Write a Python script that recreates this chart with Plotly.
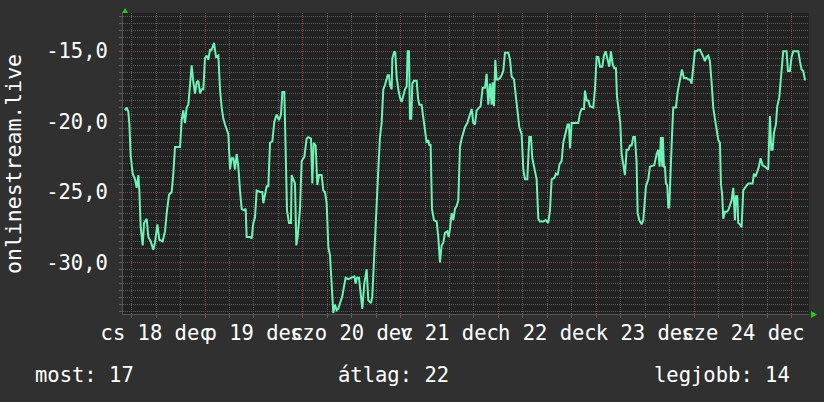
import numpy as np
import pandas as pd
import plotly.graph_objects as go

# Week of signal level readings, hours counted from 2025-12-18 00:00
START = pd.Timestamp("2025-12-18 00:00")

hours = [
    4.37, 4.78, 5.19, 5.44, 5.76, 6.26, 6.83, 7.24, 7.65, 7.89,
    8.22, 8.71, 9.04, 9.69, 10.10, 10.67, 11.32, 11.73, 12.31, 12.80,
    13.61, 14.19, 14.60, 15.17, 15.82, 16.23, 16.64, 17.87, 18.28, 18.68,
    19.09, 19.50, 19.91, 20.32, 20.73, 21.14, 21.55, 21.96, 22.37, 22.77,
    23.18, 23.59, 24.00, 24.41, 24.82, 25.23, 25.64, 26.21, 26.70, 27.27,
    27.68, 28.09, 28.50, 28.91, 29.32, 29.73, 30.14, 30.54, 30.95, 31.36,
    31.77, 32.18, 32.59, 33.00, 33.57, 33.98, 34.22, 35.04, 35.45, 35.86,
    36.27, 36.68,
    37.49, 38.07, 38.31, 38.72, 39.13, 39.54, 39.95, 40.52, 41.01, 41.58,
    42.15, 42.65, 42.97, 43.46, 43.79, 44.12, 44.61, 45.10, 45.26, 45.75,
    46.08, 46.41, 46.73, 47.31, 47.72, 48.37, 48.94, 49.35, 50.01, 50.33,
    50.66, 51.15, 51.56, 51.97, 52.62, 53.03, 53.44, 53.85, 54.26, 54.67,
    55.08, 55.48, 55.89, 56.30, 56.71, 57.37, 57.69, 58.18, 58.51, 59.17,
    59.98, 60.64, 60.96, 61.29, 61.78, 62.27, 62.60, 63.09, 63.66, 64.07,
    64.73, 65.05, 65.54, 65.95, 66.53, 66.93, 67.34, 67.75, 68.16, 68.82,
    69.14, 69.39, 69.80, 69.96, 70.45,
    70.69, 71.02, 71.43, 71.84, 72.25, 72.66, 73.07, 73.48, 73.72, 74.05,
    74.29, 74.62, 74.87, 75.27, 75.93, 76.26, 76.58, 77.15, 77.56, 78.05,
    78.38, 78.79, 79.04, 79.36, 79.69, 80.18, 80.84, 81.24, 81.65, 82.06,
    82.47, 82.88, 83.45, 83.78, 84.11, 84.52, 84.92, 85.33, 85.74, 86.15,
    86.56, 86.97, 87.38, 87.79, 88.36, 88.85, 89.42, 89.83, 90.24, 90.65,
    91.06, 91.63, 92.12, 92.69, 93.10, 93.51, 93.92, 94.33, 94.57, 94.90,
    95.23, 95.55, 95.96, 96.37, 96.78, 97.19, 97.60, 98.42, 98.83, 99.24,
    99.81, 100.30, 100.71, 101.12, 101.69, 102.10, 102.51, 103.08, 103.57,
    103.98, 104.31, 104.80, 105.37, 105.78, 106.19, 107.00, 107.58, 108.23, 108.64,
    109.05, 109.70, 110.11, 110.52, 111.01, 111.50, 111.91, 112.48, 112.97, 113.30,
    113.55, 113.96, 115.59, 116.00, 116.41, 116.98, 117.23, 117.64, 118.04, 118.45,
    119.27, 119.68, 120.09, 120.50, 120.91, 121.48, 121.89, 122.30, 122.79, 123.20,
    123.60, 124.01, 124.42, 124.83, 125.08, 125.57, 125.89, 126.22, 126.63, 127.04,
    127.45, 127.86, 128.27, 128.68, 129.08, 129.49, 129.90, 130.15, 130.56, 131.13,
    131.54, 131.95, 132.19, 132.76, 133.17, 134.24, 134.81, 135.22, 135.54, 135.87,
    136.20, 136.35, 136.60,
    136.85, 137.10, 137.42, 137.67, 137.91, 138.24, 138.57, 138.90, 139.55, 139.96,
    140.37, 140.70, 141.02, 141.51, 142.17, 142.58, 142.99, 143.39, 143.80, 144.21,
    144.62, 145.03, 145.44, 145.85, 146.26, 146.67, 147.07, 147.48, 147.89, 148.30,
    148.71, 149.12, 149.53, 149.94, 150.35, 150.59, 150.92, 151.16, 151.57, 151.98,
    152.39, 152.80, 153.21, 153.62, 154.03, 154.27, 154.60, 154.84, 155.25, 155.66,
    156.07, 156.48, 156.89, 157.30, 158.36, 158.69, 159.10, 159.50, 159.91, 160.32,
    160.81, 161.38, 161.79, 162.20, 162.61, 162.94, 163.27, 163.59, 164.08, 164.41,
    164.90, 165.23, 165.56, 165.88, 166.70, 167.03, 167.52, 167.93, 168.34, 169.56,
    169.97, 170.38, 170.79, 171.20, 171.44,
]

level = [
    -19.2, -19.0, -19.3, -20.2, -22.4, -23.7, -24.1, -24.7, -23.8, -24.9,
    -27.5, -28.8, -27.2, -26.9, -28.2, -28.5, -29.1, -28.6, -27.3, -28.4,
    -28.5, -27.8, -26.5, -25.2, -25.0, -23.7, -21.8, -21.8, -19.9, -19.2,
    -20.1, -19.0, -18.8, -17.4, -16.0, -17.2, -18.0, -17.2, -17.1, -18.0,
    -17.7, -17.7, -15.5, -15.3, -15.6, -14.9, -14.9, -14.4, -15.4, -15.3,
    -17.7, -19.0, -19.8, -20.2, -20.5, -20.9, -23.4, -22.6, -22.6, -23.4,
    -22.3, -23.2, -24.9, -26.2, -26.3, -26.2, -28.2, -28.2, -28.3, -27.2,
    -26.8, -24.9,
    -25.0, -25.0, -25.8, -25.3, -24.6, -24.6, -21.5, -21.4, -20.0, -19.5,
    -19.9, -19.5, -17.9, -17.9, -22.3, -26.3, -27.2, -27.2, -23.8, -24.2,
    -24.4, -28.8, -28.2, -26.2, -22.8, -22.5, -21.2, -21.1, -21.2, -24.4,
    -21.5, -21.7, -24.5, -23.8, -23.8, -24.9, -25.0, -25.8, -28.9, -29.5,
    -31.7, -33.6, -33.0, -33.4, -33.3, -32.7, -32.4, -31.6, -31.1, -31.2,
    -31.1, -31.0, -31.5, -31.1, -31.1, -32.2, -33.3, -31.5, -30.5, -32.7,
    -32.9, -32.4, -29.1, -27.5, -23.4, -21.1, -20.1, -17.7, -17.4, -16.7,
    -16.7, -17.4, -17.7, -15.5, -15.0,
    -15.1, -16.8, -17.7, -18.3, -18.6, -18.1, -17.7, -17.5, -15.0, -15.0,
    -19.8, -19.8, -17.3, -17.1, -17.1, -18.3, -18.8, -18.8, -19.6, -20.5,
    -21.5, -21.3, -21.7, -21.6, -26.2, -27.0, -27.1, -28.2, -30.0, -28.8,
    -28.6, -27.9, -27.8, -28.2, -27.6, -26.5, -27.0, -26.2, -26.0, -25.6,
    -21.8, -21.2, -20.8, -20.4, -20.1, -19.6, -19.1, -20.1, -20.2, -19.2,
    -19.1, -18.9, -17.6, -17.6, -16.6, -18.8, -17.3, -18.8, -17.2, -18.9,
    -15.6, -17.0, -17.0, -16.9, -16.7, -16.4, -15.1, -15.1, -15.6, -16.8,
    -17.0, -18.3, -19.1, -20.4, -20.9, -23.4, -24.1, -24.1, -21.1,
    -21.1, -22.6, -23.2, -24.1, -26.9, -27.1, -27.1, -27.0, -27.2, -26.3,
    -24.1, -24.0, -23.7, -23.8, -23.0, -22.8, -21.5, -20.8, -20.2, -20.2,
    -21.9, -20.1, -20.1, -19.4, -19.1, -19.1, -17.8, -18.5, -18.5, -18.9,
    -19.0, -17.7, -15.4, -15.4, -16.1, -16.1, -15.3, -15.0, -15.7, -16.1,
    -15.0, -15.9, -16.2, -16.2, -18.2, -19.5, -20.1, -22.3, -23.1, -23.8,
    -22.0, -22.0, -21.7, -21.7, -21.1, -21.1, -22.9, -26.5, -27.0, -27.3,
    -27.0, -25.3, -24.6, -24.1, -23.2, -23.1, -22.3, -22.0, -23.2, -21.1,
    -23.2, -21.1, -23.2,
    -23.2, -24.4, -24.5, -26.1, -26.1, -22.7, -21.1, -19.0, -19.0, -17.9,
    -17.2, -16.9, -16.3, -16.9, -16.9, -17.0, -17.0, -17.3, -16.2, -15.0,
    -15.0, -14.9, -14.9, -15.1, -15.4, -15.7, -15.4, -15.3, -15.7, -17.2,
    -19.0, -19.8, -20.7, -21.3, -21.5, -24.4, -25.3, -26.9, -26.4, -26.4,
    -26.3, -25.9, -25.6, -24.7, -27.0, -25.3, -25.3, -27.2, -27.3, -27.5,
    -24.9, -24.7, -24.5, -24.4, -24.4, -23.7, -23.9, -23.6, -23.2, -22.6,
    -23.1, -23.2, -23.3, -23.4, -19.6, -22.0, -22.0, -20.8, -20.2, -18.9,
    -18.3, -17.0, -16.3, -15.0, -15.0, -16.4, -16.4, -15.4, -15.0, -15.0,
    -15.7, -16.3, -16.4, -17.0, -17.0,
]

series_name = "onlinestream.live"
day_labels = ["cs 18 dec", "p 19 dec", "szo 20 dec", "v 21 dec",
              "h 22 dec", "k 23 dec", "sze 24 dec"]
y_tick_vals = [-30, -25, -20, -15]
y_tick_text = ["-30,0", "-25,0", "-20,0", "-15,0"]

times = START + pd.to_timedelta(hours, unit="h")

# summary figures for the footer
lv = np.array(level)
hr = np.array(hours)
mean_level = np.trapezoid(lv, hr) / (hr[-1] - hr[0])
footer = [
    ("most: %d" % round(abs(lv[-1])), 33, "left"),
    ("átlag: %d" % round(abs(mean_level)), 336, "left"),
    ("legjobb: %d" % round(abs(lv.max())), 792, "right"),
]

# page geometry (pixels)
W, H = 824, 402
L, R, T, B = 123, 809, 13, 314


def px_x(px):
    return (px - L) / (R - L)


def px_y(py):
    return (B - py) / (B - T)


FONT = "DejaVu Sans Mono"
FS = 20.5
TXT = "#ffffff"
MINOR_GRID = "#5c5c5c"
MAJOR_GRID = "#8a4545"
DOT = "1px,1px"

x_range = [START + pd.Timedelta(hours=3.88), START + pd.Timedelta(hours=172.2)]
y_range = [-33.67, -12.28]
midnights = [START + pd.Timedelta(days=d) for d in range(1, 8)]
noons = [START + pd.Timedelta(days=d, hours=12) for d in range(0, 7)]

fig = go.Figure()
fig.add_trace(go.Scatter(
    x=times, y=level, mode="lines",
    line=dict(color="#6ff2b6", width=2),
    name=series_name, showlegend=False, hoverinfo="skip",
))
# carrier for the day labels axis
fig.add_trace(go.Scatter(x=[times[0]], y=[level[0]], xaxis="x2", mode="lines",
                         line=dict(width=0), showlegend=False, hoverinfo="skip"))

fig.update_layout(
    width=W, height=H,
    margin=dict(l=L, r=W - R, t=T, b=H - B),
    paper_bgcolor="#303030",
    plot_bgcolor="#222222",
    font=dict(family=FONT, size=FS, color=TXT),
    xaxis=dict(
        type="date", range=x_range,
        tickvals=midnights, showticklabels=False,
        showgrid=True, gridcolor=MAJOR_GRID, gridwidth=1, griddash=DOT,
        ticks="outside", ticklen=3, tickcolor=MAJOR_GRID,
        minor=dict(dtick=6 * 3600 * 1000, tick0=START, showgrid=True,
                   gridcolor=MINOR_GRID, griddash=DOT, gridwidth=1,
                   ticks="outside", ticklen=3, tickcolor=MINOR_GRID),
        showline=True, linecolor="#555555", linewidth=1,
        zeroline=False, fixedrange=True,
    ),
    xaxis2=dict(
        type="date", range=x_range, overlaying="x", anchor="y", side="bottom",
        tickvals=noons, ticktext=day_labels, tickangle=0,
        showgrid=False, ticks="", ticklabelstandoff=4,
        tickfont=dict(family=FONT, size=FS, color=TXT),
        showline=False, zeroline=False, fixedrange=True,
    ),
    yaxis=dict(
        range=y_range, tickvals=y_tick_vals, ticktext=y_tick_text,
        showgrid=True, gridcolor=MAJOR_GRID, gridwidth=1, griddash=DOT,
        ticks="outside", ticklen=3, tickcolor=MAJOR_GRID,
        ticklabelstandoff=7,
        minor=dict(dtick=0.5, tick0=0, showgrid=True, gridcolor=MINOR_GRID,
                   griddash=DOT, gridwidth=1, ticks="outside", ticklen=3,
                   tickcolor=MINOR_GRID),
        showline=True, linecolor="#555555", linewidth=1,
        zeroline=False, fixedrange=True,
    ),
)

# vertical axis title
fig.add_annotation(
    text=series_name, textangle=-90, showarrow=False,
    xref="paper", yref="paper", x=px_x(13), y=px_y(164),
    xanchor="center", yanchor="middle",
    font=dict(family=FONT, size=21.5, color=TXT),
)

# footer statistics
for text, xpx, anchor in footer:
    fig.add_annotation(
        text=text, showarrow=False, xref="paper", yref="paper",
        x=px_x(xpx), y=px_y(375), xanchor=anchor, yanchor="middle",
        font=dict(family=FONT, size=FS, color=TXT),
    )

# axis direction arrows
ARROW = "#18d018"
up = "M {} {} L {} {} L {} {} Z".format(px_x(122), px_y(13), px_x(128), px_y(13),
                                         px_x(125), px_y(8))
right = "M {} {} L {} {} L {} {} Z".format(px_x(811), px_y(311), px_x(811), px_y(318),
                                            px_x(817), px_y(314.5))
for p in (up, right):
    fig.add_shape(type="path", path=p, xref="paper", yref="paper",
                  fillcolor=ARROW, line=dict(color=ARROW, width=0), layer="above")

fig.write_html("out.html")
